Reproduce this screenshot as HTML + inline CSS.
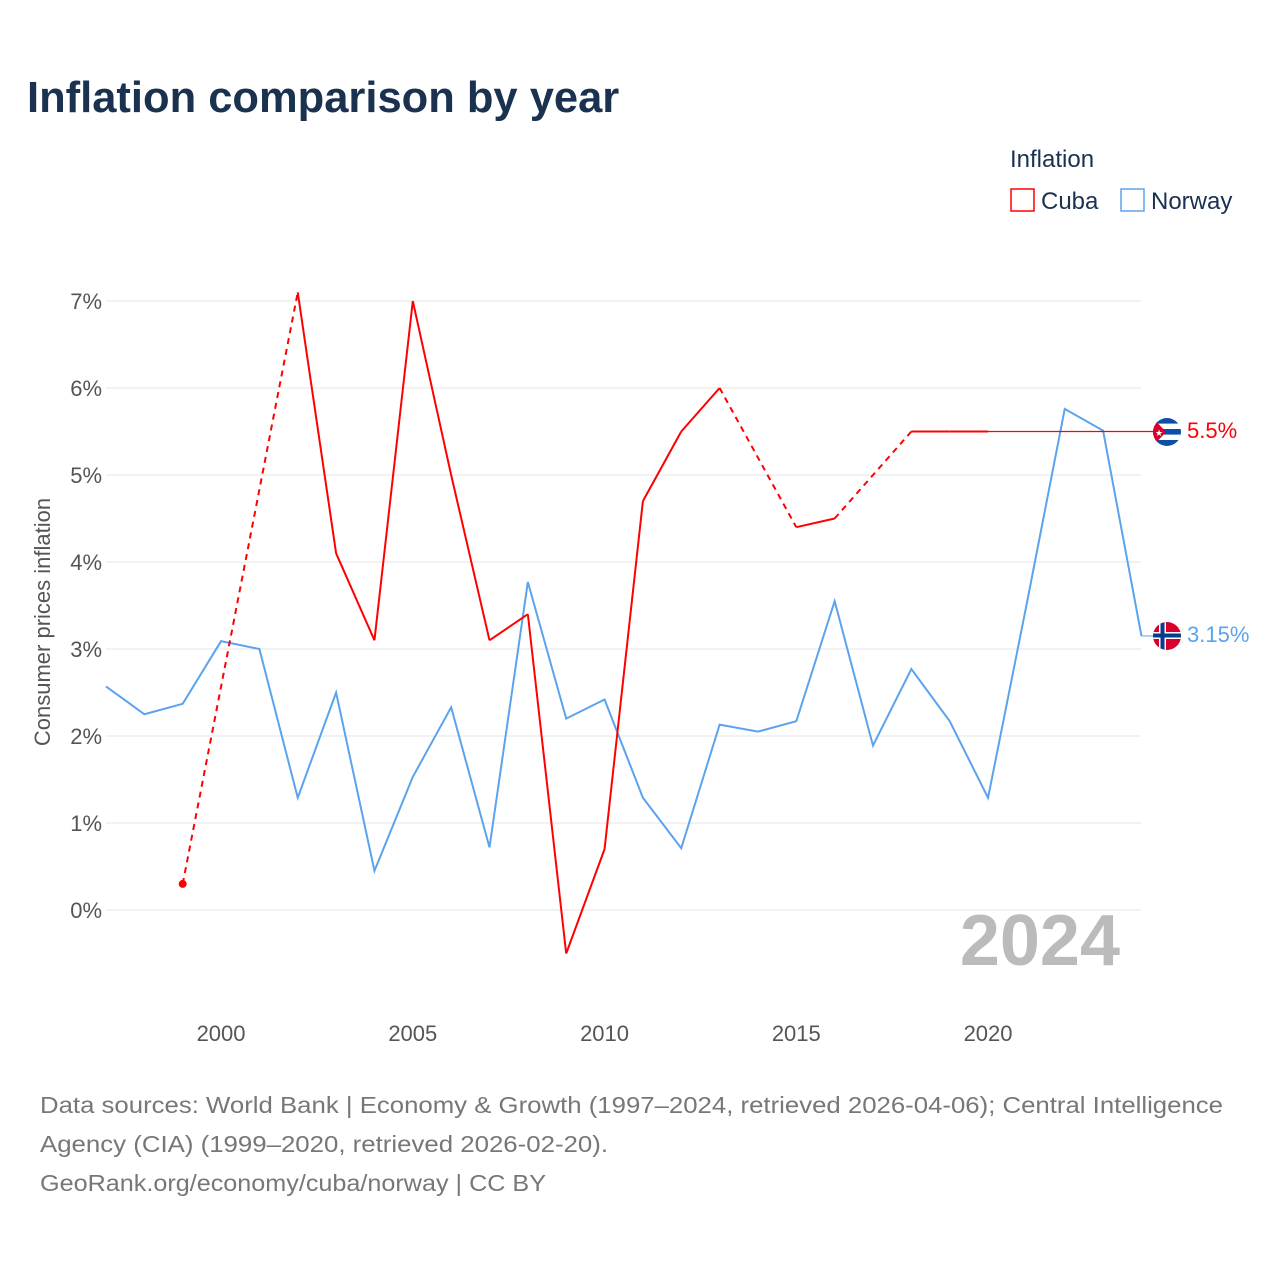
<!DOCTYPE html>
<html><head><meta charset="utf-8"><style>
body{margin:0;background:#fff;font-family:"Liberation Sans",sans-serif}
svg text{font-family:"Liberation Sans",sans-serif}
</style></head><body>
<svg width="1280" height="1280" id="c">
<text x="27" y="112" font-size="43.5" font-weight="bold" fill="#1a3150">Inflation comparison by year</text>
<text x="1010" y="167" font-size="24" fill="#1a3150">Inflation</text>
<g><rect x="1011" y="189" width="23" height="22" fill="none" stroke="#f00" stroke-width="1.5"/><text x="1041" y="209" font-size="24" fill="#1a3150">Cuba</text></g>
<g><rect x="1121" y="189" width="23" height="22" fill="none" stroke="#5ba3ec" stroke-width="1.5"/><text x="1151" y="209" font-size="24" fill="#1a3150">Norway</text></g>
<text transform="translate(50,622) rotate(-90)" text-anchor="middle" font-size="22" fill="#555">Consumer prices inflation</text>
<g id="grid"></g><g id="xt"></g>
<text x="1120" y="965" text-anchor="end" font-size="72" font-weight="bold" fill="#bbb">2024</text>
<g id="series"></g>
<g>
<clipPath id="cf"><circle cx="1167" cy="432" r="14"/></clipPath>
<g clip-path="url(#cf)"><rect x="1150" y="416" width="34" height="32" fill="#fff"/>
<rect x="1150" y="418" width="34" height="5.6" fill="#0a4fa8"/><rect x="1150" y="429" width="34" height="5.6" fill="#0a4fa8"/><rect x="1150" y="440" width="34" height="6" fill="#0a4fa8"/>
<polygon points="1153,418 1166,432 1153,446" fill="#d6002a"/></g>
<text x="1159" y="436" font-size="9" fill="#fff" text-anchor="middle">★</text></g>
<g>
<clipPath id="nf"><circle cx="1167" cy="636" r="14"/></clipPath>
<g clip-path="url(#nf)"><rect x="1150" y="620" width="34" height="32" fill="#d6002a"/>
<rect x="1159" y="620" width="7" height="32" fill="#fff"/><rect x="1150" y="632" width="34" height="7" fill="#fff"/>
<rect x="1160.5" y="620" width="4" height="32" fill="#0a3a8c"/><rect x="1150" y="633.5" width="34" height="4" fill="#0a3a8c"/></g></g>
<text x="1187" y="438" font-size="22" fill="#f00">5.5%</text>
<text x="1187" y="642" font-size="22" fill="#5ba3ec">3.15%</text>
<text font-size="23" fill="#777"><tspan x="40" y="1113" textLength="1183" lengthAdjust="spacingAndGlyphs">Data sources: World Bank | Economy &amp; Growth (1997–2024, retrieved 2026-04-06); Central Intelligence</tspan><tspan x="40" y="1152" textLength="568" lengthAdjust="spacingAndGlyphs">Agency (CIA) (1999–2020, retrieved 2026-02-20).</tspan><tspan x="40" y="1191" textLength="506" lengthAdjust="spacingAndGlyphs">GeoRank.org/economy/cuba/norway | CC BY</tspan></text>
</svg>
<script>
const yTicks=[0,1,2,3,4,5,6,7];
const xTicks=[2000,2005,2010,2015,2020];
const norwayYears=[1997,1998,1999,2000,2001,2002,2003,2004,2005,2006,2007,2008,2009,2010,2011,2012,2013,2014,2015,2016,2017,2018,2019,2020,2021,2022,2023,2024];
const norwayVals=[2.57,2.25,2.37,3.09,3.0,1.29,2.5,0.45,1.53,2.33,0.72,3.77,2.2,2.42,1.29,0.71,2.13,2.05,2.17,3.55,1.89,2.77,2.17,1.29,3.5,5.76,5.51,3.15];
const cubaYears=[1999,2002,2003,2004,2005,2006,2007,2008,2009,2010,2011,2012,2013,2015,2016,2018,2019,2020];
const cubaVals=[0.3,7.1,4.1,3.1,7.0,5.0,3.1,3.4,-0.5,0.7,4.7,5.5,6.0,4.4,4.5,5.5,5.5,5.5];
const cubaDashedAfter=[1999,2013,2016];
const cubaLatest=5.5;
const X=y=>106+(y-1997)*38.35, Y=v=>910-v*87;
const NS="http://www.w3.org/2000/svg";
function mk(t,a,p){const e=document.createElementNS(NS,t);for(const k in a)e.setAttribute(k,a[k]);p.appendChild(e);return e;}
const g=document.getElementById('grid');
yTicks.forEach(t=>{const l=mk('line',{x1:106,x2:1141,y1:Y(t),y2:Y(t),stroke:'#e6e6e6'},g);


const tx=mk('text',{x:102,y:Y(t)+8,'text-anchor':'end','font-size':22,fill:'#555'},g);tx.textContent=t+'%';

});
const xt=document.getElementById('xt');
xTicks.forEach(t=>{const tx=mk('text',{x:X(t),y:1041,'text-anchor':'middle','font-size':22,fill:'#555'},xt);tx.textContent=t;

});
const s=document.getElementById('series');
const nl=mk('polyline',{points:norwayYears.map((y,i)=>X(y)+','+Y(norwayVals[i])).join(' '),fill:'none',stroke:'#5ba3ec','stroke-width':2},s);


const nt=mk('line',{x1:X(2024),x2:1153,y1:Y(norwayVals[norwayVals.length-1]),y2:Y(norwayVals[norwayVals.length-1]),stroke:'#5ba3ec','stroke-width':1},s);


for(let i=0;i<cubaYears.length-1;i++){
 const d=cubaDashedAfter.includes(cubaYears[i]);
 const l=mk('line',{x1:X(cubaYears[i]),y1:Y(cubaVals[i]),x2:X(cubaYears[i+1]),y2:Y(cubaVals[i+1]),stroke:'#f00','stroke-width':2,'stroke-dasharray':d?'6,5':'none'},s);
 
 
}
const cd=mk('circle',{cx:X(cubaYears[0]),cy:Y(cubaVals[0]),r:4,fill:'#f00'},s);


const ct=mk('line',{x1:X(cubaYears[cubaYears.length-1]),x2:1153,y1:Y(cubaLatest),y2:Y(cubaLatest),stroke:'#ff0000','stroke-width':1.3},s);


</script>
</body></html>
